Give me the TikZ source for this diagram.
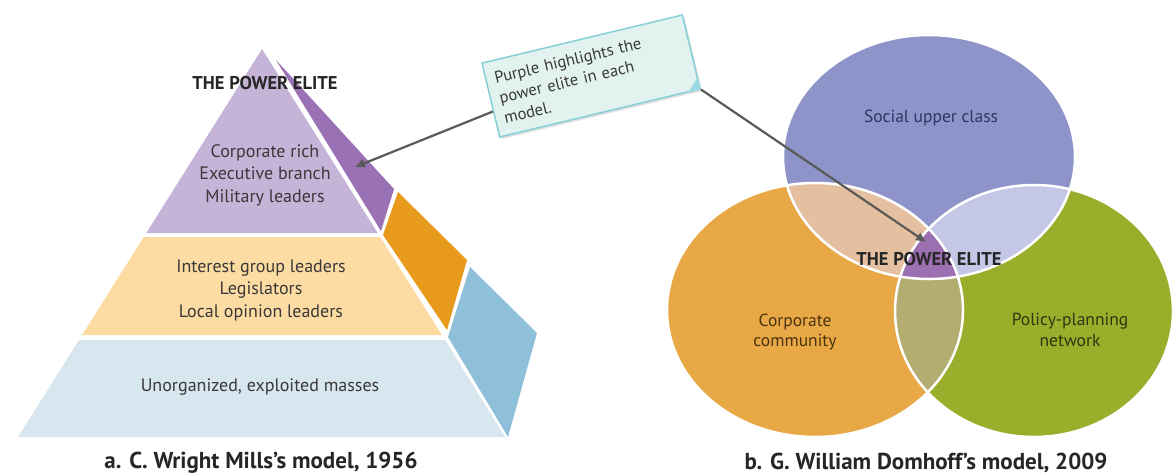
\documentclass[tikz,border=0pt]{standalone}
\usepackage{fontspec}
\setmainfont{PT Sans}
\usetikzlibrary{arrows.meta,calc,shadows}
\definecolor{ptop}{HTML}{C6B4D8}
\definecolor{pside}{HTML}{9A71B4}
\definecolor{pmid}{HTML}{FCDCA2}
\definecolor{oside}{HTML}{E89A1C}
\definecolor{pbot}{HTML}{D8E6F0}
\definecolor{bside}{HTML}{8EC0DA}
\definecolor{vtop}{HTML}{8E94C9}
\definecolor{vleft}{HTML}{E9A846}
\definecolor{vright}{HTML}{9BAE2B}
\definecolor{vtl}{HTML}{E5C0A0}
\definecolor{vtr}{HTML}{C4C7E5}
\definecolor{vlr}{HTML}{B3AD72}
\definecolor{velite}{HTML}{9C6FB1}
\definecolor{callfill}{HTML}{E2F3EF}
\definecolor{callline}{HTML}{86CFD9}
\definecolor{callfold}{HTML}{9AD7E2}
\definecolor{txt}{HTML}{3A3838}
\definecolor{arrowgray}{HTML}{5A5A5A}
\begin{document}
\begin{tikzpicture}[x=1pt,y=-1pt,
  ptext/.style={text=txt, font=\fontsize{18}{22.5}\selectfont, align=center, inner sep=0pt},
  elitetext/.style={text=black!85, font=\fontsize{18.5}{20}\selectfont\bfseries, inner sep=0pt},
  vtext/.style={font=\fontsize{17.5}{20.5}\selectfont, align=center, inner sep=0pt},
  captext/.style={text=black!85, font=\fontsize{23}{26}\selectfont\bfseries, inner sep=0pt},
  callarrow/.style={draw=arrowgray, line width=2.2pt, -{Triangle[length=10pt,width=8pt]}},
  vborder/.style={draw=white, line width=2.5pt},
  callbox/.style={fill=callfill, draw=callline, line width=1.5pt, rotate=13.5,
    minimum width=206pt, minimum height=76pt, text width=188pt, align=left,
    text=txt, font=\fontsize{16.5}{20.5}\selectfont,
    drop shadow={opacity=0.25, shadow xshift=2pt, shadow yshift=-2pt}}
]
\useasboundingbox (0,0) rectangle (1174,475);
\fill[white] (0,0) rectangle (1174,475);

% ---------- pyramid ----------
\fill[ptop] (262,49) -- (146.3,233) -- (377.7,233) -- cycle;
\fill[pmid] (143.8,237) -- (380.2,237) -- (441.9,335) -- (82.1,335) -- cycle;
\fill[pbot] (79,340) -- (445,340) -- (505,437) -- (18,437) -- cycle;
\fill[pside] (276,60) -- (394,189) -- (381,231) -- cycle;
\fill[oside] (383,235) -- (398,192) -- (467,260) -- (447,330) -- cycle;
\fill[bside] (448,337) -- (470,267) -- (537,333) -- (508,437) -- cycle;

\node[elitetext] (pelite) at (265,83) {THE POWER ELITE};
\node[ptext] (ptopt) at (265,175) {Corporate rich\\Executive branch\\Military leaders};
\node[ptext] (pmidt) at (261,290) {Interest group leaders\\Legislators\\Local opinion leaders};
\node[ptext] (pbott) at (260,387) {Unorganized, exploited masses};

% ---------- Venn ----------
\coordinate (T) at (929,157);
\coordinate (L) at (815,310);
\coordinate (R) at (1034,311);
\fill[vtop] (T) ellipse [x radius=146, y radius=122];
\fill[vleft] (L) ellipse [x radius=148, y radius=127];
\fill[vright] (R) ellipse [x radius=139, y radius=126];
\begin{scope}
  \clip (T) ellipse [x radius=146, y radius=122];
  \fill[vtl] (L) ellipse [x radius=148, y radius=127];
  \fill[vtr] (R) ellipse [x radius=139, y radius=126];
\end{scope}
\begin{scope}
  \clip (L) ellipse [x radius=148, y radius=127];
  \fill[vlr] (R) ellipse [x radius=139, y radius=126];
  \clip (T) ellipse [x radius=146, y radius=122];
  \fill[velite] (R) ellipse [x radius=139, y radius=126];
\end{scope}
\draw[vborder] (T) ellipse [x radius=146, y radius=122];
\draw[vborder] (L) ellipse [x radius=148, y radius=127];
\draw[vborder] (R) ellipse [x radius=139, y radius=126];

\node[vtext, text={rgb,255:red,47;green,53;blue,102}] (vsoc) at (931,118) {Social upper class};
\node[vtext, text={rgb,255:red,74;green,52;blue,16}] (vcorp) at (795,332) {Corporate\\community};
\node[vtext, text={rgb,255:red,46;green,53;blue,16}] (vpol) at (1070,330) {Policy-planning\\network};
\node[elitetext] (velitet) at (929,259) {THE POWER ELITE};

% ---------- callout ----------
\coordinate (pyrtip) at (355,167);
\coordinate (venntip) at (926,242);
\node[callbox] (call) at (591,76) {Purple highlights the\\power elite in each\\model.};
\fill[callfold] (call.south east) -- ($(call.south east)!13pt!(call.south west)$) -- ($(call.south east)!13pt!(call.north east)$) -- cycle;
\draw[callarrow] ($(call.west)!0.3!(call.south west)$) -- (pyrtip);
\draw[callarrow] (call.south east) -- (venntip);

% ---------- captions ----------
\node[captext] (capa) at (261,463) {a. C. Wright Mills’s model, 1956};
\node[captext] (capb) at (926,463) {b. G. William Domhoff’s model, 2009};
\end{tikzpicture}
\end{document}
